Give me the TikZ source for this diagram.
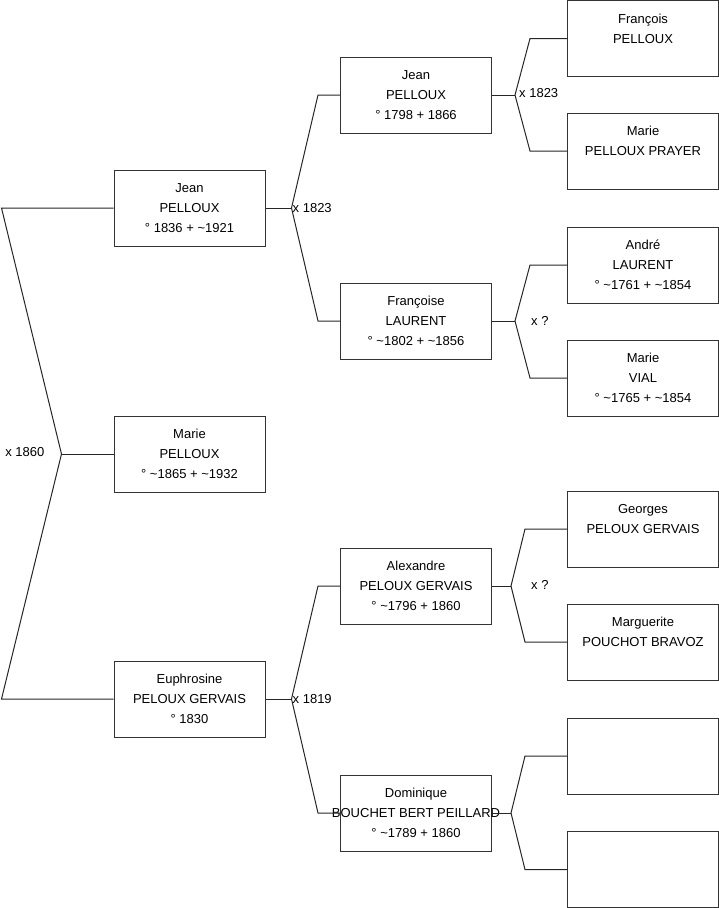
\documentclass[tikz,border=0pt]{standalone}
\usepackage{fontspec}
\setmainfont{Liberation Sans}
\begin{document}
\begin{tikzpicture}[
    x=1pt, y=-1pt,
    person/.style={draw=black!80, line width=1pt, minimum width=151pt, minimum height=76pt, inner sep=0pt, align=center, font=\fontsize{13}{20}\selectfont},
    link/.style={line width=1pt, black!85},
    union/.style={font=\fontsize{13}{14}\selectfont, inner sep=0pt}
]
    \useasboundingbox (0,0) rectangle (719,908);

    % Generation 1
    \node[person] (jean1) at (189.5,208) {Jean\\PELLOUX\\° 1836 + \textasciitilde1921};
    \node[person] (marie1) at (189.5,454) {Marie\\PELLOUX\\° \textasciitilde1865 + \textasciitilde1932};
    \node[person] (euph) at (189.5,699) {Euphrosine\\PELOUX GERVAIS\\° 1830};

    % Generation 2
    \node[person] (jean2) at (416,95) {Jean\\PELLOUX\\° 1798 + 1866};
    \node[person] (franc) at (416,321) {Françoise\\LAURENT\\° \textasciitilde1802 + \textasciitilde1856};
    \node[person] (alex) at (416,586) {Alexandre\\PELOUX GERVAIS\\° \textasciitilde1796 + 1860};
    \node[person] (domi) at (416,813) {Dominique\\\makebox[0pt]{BOUCHET BERT PEILLARD}\\° \textasciitilde1789 + 1860};

    % Generation 3
    \node[person] (francois) at (643,38.5) {François\\PELLOUX\\\mbox{}};
    \node[person] (marie3) at (643,151) {Marie\\PELLOUX PRAYER\\\mbox{}};
    \node[person] (andre) at (643,265) {André\\LAURENT\\° \textasciitilde1761 + \textasciitilde1854};
    \node[person] (vial) at (643,378) {Marie\\VIAL\\° \textasciitilde1765 + \textasciitilde1854};
    \node[person] (georges) at (643,529) {Georges\\PELOUX GERVAIS\\\mbox{}};
    \node[person] (margue) at (643,642) {Marguerite\\POUCHOT BRAVOZ\\\mbox{}};
    \node[person] (blank1) at (643,756) {};
    \node[person] (blank2) at (643,869.5) {};

    % Union points
    \coordinate (u1) at ([xshift=-52pt]marie1.west);
    \coordinate (u2) at ([xshift=26pt]jean1.east);
    \coordinate (u3) at ([xshift=23pt]jean2.east);
    \coordinate (u4) at ([xshift=23pt]franc.east);
    \coordinate (u5) at ([xshift=19pt]alex.east);
    \coordinate (u6) at ([xshift=26pt]euph.east);
    \coordinate (u7) at ([xshift=19pt]domi.east);

    % Forks
    \draw[link] (jean1.west) -- ([xshift=-112pt]jean1.west) -- (u1) -- ([xshift=-112pt]euph.west) -- (euph.west);
    \draw[link] (u1) -- (marie1.west);

    \draw[link] (jean2.west) -- ([xshift=-22pt]jean2.west) -- (u2) -- ([xshift=-22pt]franc.west) -- (franc.west);
    \draw[link] (u2) -- (jean1.east);

    \draw[link] (alex.west) -- ([xshift=-22pt]alex.west) -- (u6) -- ([xshift=-22pt]domi.west) -- (domi.west);
    \draw[link] (u6) -- (euph.east);

    \draw[link] (francois.west) -- ([xshift=-37pt]francois.west) -- (u3) -- ([xshift=-37pt]marie3.west) -- (marie3.west);
    \draw[link] (u3) -- (jean2.east);

    \draw[link] (andre.west) -- ([xshift=-37pt]andre.west) -- (u4) -- ([xshift=-37pt]vial.west) -- (vial.west);
    \draw[link] (u4) -- (franc.east);

    \draw[link] (georges.west) -- ([xshift=-42pt]georges.west) -- (u5) -- ([xshift=-42pt]margue.west) -- (margue.west);
    \draw[link] (u5) -- (alex.east);

    \draw[link] (blank1.west) -- ([xshift=-42pt]blank1.west) -- (u7) -- ([xshift=-42pt]blank2.west) -- (blank2.west);
    \draw[link] (u7) -- (domi.east);

    % Marriage labels
    \node[union, anchor=east] (l1) at ([xshift=-17pt, yshift=2pt]u1) {x 1860};
    \node[union, anchor=west] (l2) at ([xshift=1pt]u2) {x 1823};
    \node[union, anchor=west] (l3) at ([xshift=4pt, yshift=2pt]u3) {x 1823};
    \node[union, anchor=west] (l4) at ([xshift=16pt]u4) {x ?};
    \node[union, anchor=west] (l5) at ([xshift=20pt, yshift=1pt]u5) {x ?};
    \node[union, anchor=west] (l6) at ([xshift=1pt]u6) {x 1819};
\end{tikzpicture}
\end{document}
